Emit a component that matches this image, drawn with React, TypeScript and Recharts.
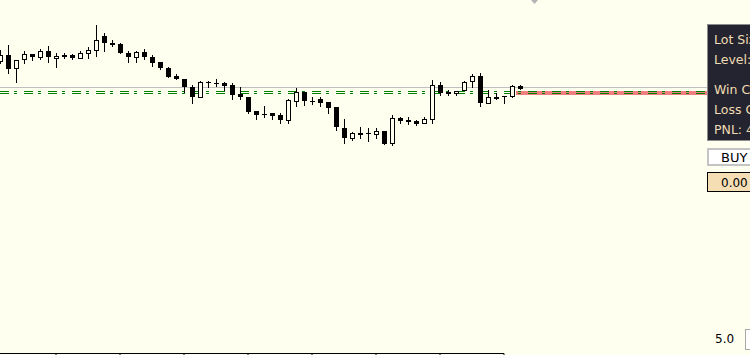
import { ComposedChart, Bar, XAxis, YAxis, ReferenceLine, ReferenceArea } from 'recharts';

// candle values, oldest first
const opens = [
  1.0839, 1.0845, 1.0832, 1.0841, 1.0846, 1.0843, 1.0849, 1.0842, 1.0845, 1.0845,
  1.0842, 1.0847, 1.0850, 1.0864, 1.0857, 1.0856, 1.0847, 1.0843, 1.0848, 1.0843,
  1.0838, 1.0832, 1.0824, 1.0821, 1.0813, 1.0803, 1.0818, 1.0817, 1.0817, 1.0815,
  1.0806, 1.0803, 1.0789, 1.0786, 1.0787, 1.0785, 1.0780, 1.0799, 1.0808, 1.0799,
  1.0801, 1.0798, 1.0793, 1.0772, 1.0762, 1.0767, 1.0767, 1.0766, 1.0769, 1.0757,
  1.0782, 1.0780, 1.0779, 1.0777, 1.0781, 1.0815, 1.0808, 1.0807, 1.0810, 1.0819,
  1.0824, 1.0797, 1.0803, 1.0804, 1.0804, 1.0814,
];
const highs = [
  1.0850, 1.0855, 1.0840, 1.0849, 1.0846, 1.0851, 1.0854, 1.0847, 1.0847, 1.0846,
  1.0849, 1.0853, 1.0875, 1.0867, 1.0860, 1.0857, 1.0849, 1.0849, 1.0851, 1.0845,
  1.0838, 1.0833, 1.0826, 1.0821, 1.0815, 1.0819, 1.0819, 1.0821, 1.0818, 1.0817,
  1.0813, 1.0803, 1.0789, 1.0794, 1.0787, 1.0787, 1.0801, 1.0812, 1.0808, 1.0803,
  1.0803, 1.0798, 1.0793, 1.0781, 1.0768, 1.0773, 1.0772, 1.0772, 1.0769, 1.0785,
  1.0783, 1.0783, 1.0780, 1.0783, 1.0820, 1.0818, 1.0810, 1.0809, 1.0819, 1.0826,
  1.0827, 1.0810, 1.0807, 1.0804, 1.0815, 1.0815,
];
const lows = [
  1.0837, 1.0827, 1.0818, 1.0837, 1.0840, 1.0841, 1.0838, 1.0833, 1.0842, 1.0841,
  1.0842, 1.0842, 1.0844, 1.0849, 1.0854, 1.0847, 1.0838, 1.0838, 1.0841, 1.0834,
  1.0831, 1.0823, 1.0821, 1.0808, 1.0797, 1.0803, 1.0813, 1.0814, 1.0810, 1.0801,
  1.0801, 1.0787, 1.0781, 1.0783, 1.0781, 1.0777, 1.0777, 1.0794, 1.0795, 1.0796,
  1.0794, 1.0787, 1.0770, 1.0757, 1.0760, 1.0762, 1.0759, 1.0762, 1.0756, 1.0755,
  1.0777, 1.0776, 1.0775, 1.0777, 1.0777, 1.0805, 1.0805, 1.0805, 1.0810, 1.0813,
  1.0794, 1.0797, 1.0801, 1.0797, 1.0803, 1.0811,
];
const closes = [
  1.0845, 1.0831, 1.0840, 1.0846, 1.0843, 1.0849, 1.0843, 1.0844, 1.0843, 1.0842,
  1.0847, 1.0850, 1.0860, 1.0857, 1.0855, 1.0847, 1.0843, 1.0848, 1.0843, 1.0837,
  1.0832, 1.0823, 1.0821, 1.0813, 1.0803, 1.0818, 1.0817, 1.0817, 1.0814, 1.0805,
  1.0803, 1.0788, 1.0785, 1.0786, 1.0784, 1.0780, 1.0800, 1.0808, 1.0799, 1.0799,
  1.0797, 1.0792, 1.0773, 1.0762, 1.0767, 1.0765, 1.0767, 1.0769, 1.0756, 1.0782,
  1.0779, 1.0778, 1.0776, 1.0781, 1.0815, 1.0807, 1.0806, 1.0809, 1.0818, 1.0824,
  1.0797, 1.0803, 1.0801, 1.0803, 1.0814, 1.0811,
];

// empty slots to the right of the last bar (chart shift area)
const emptySlots = 28;
const timeTicks = [7, 15, 23, 31, 39, 47, 55, 63];

const priceLevel = 1.08125; // grey line
const stopLevels = [1.08085, 1.08065]; // green dash-dot lines
const lossZone = [1.0805, 1.0809];
const axisPrice = 1.05465;
const tickBottom = 1.0545;

const panelLines = [
  { text: 'Lot Size: 0.01', y: 44 },
  { text: 'Level: 1', y: 64 },
  { text: 'Win Count: 0', y: 94 },
  { text: 'Loss Count: 0', y: 114 },
  { text: 'PNL: 4', y: 134 },
];

const BG = '#fffff0';

const rows = Array.from({ length: opens.length + emptySlots }, (_, i) =>
  i < opens.length
    ? { i, o: opens[i], h: highs[i], l: lows[i], c: closes[i], range: [lows[i], highs[i]] }
    : { i }
);

function Candle(props: any) {
  const { x, y, width, height, payload } = props;
  if (payload == null || payload.o == null) return null;
  const { o, h, l, c } = payload;
  const ppu = height / (h - l);
  const cx = Math.floor(x + width / 2);
  const top = Math.round(y + (h - Math.max(o, c)) * ppu);
  const bot = Math.round(y + (h - Math.min(o, c)) * ppu);
  const wickTop = Math.round(y);
  const wickBot = Math.round(y + height);
  const up = c > o;
  return (
    <g>
      <line x1={cx + 0.5} x2={cx + 0.5} y1={wickTop} y2={wickBot + 1} stroke="#000" strokeWidth={1} />
      {up ? (
        <rect x={cx - 1.5} y={top + 0.5} width={4} height={Math.max(bot - top, 1)} fill={BG} stroke="#000" strokeWidth={1} />
      ) : (
        <rect x={cx - 2} y={top} width={5} height={Math.max(bot - top, 1)} fill="#000" />
      )}
    </g>
  );
}

export default function App() {
  return (
    <div style={{ position: 'fixed', left: 0, top: 0, width: 750, height: 355, background: BG, overflow: 'hidden' }}>
      <ComposedChart
        width={750}
        height={355}
        data={rows}
        margin={{ top: 0, right: 2, bottom: 0, left: -4 }}
        barCategoryGap={0}
      >
        <XAxis dataKey="i" hide />
        <YAxis hide type="number" domain={[1.0545, 1.09]} />
        <ReferenceArea x1={opens.length - 1} y1={lossZone[0]} y2={lossZone[1]} fill="#f08080" fillOpacity={1} stroke="none" zIndex={0} />
        <ReferenceLine y={priceLevel} stroke="#c0c0c0" strokeWidth={1} zIndex={0} />
        {stopLevels.map((lv) => (
          <ReferenceLine key={lv} y={lv} stroke="#008000" strokeWidth={1} strokeDasharray="9 5 3 7" strokeDashoffset={-4} zIndex={0} />
        ))}
        <ReferenceLine segment={[{ x: 0, y: axisPrice }, { x: timeTicks[timeTicks.length - 1], y: axisPrice }]} stroke="#000" zIndex={0} />
        {timeTicks.map((t) => (
          <ReferenceLine key={t} segment={[{ x: t, y: axisPrice }, { x: t, y: tickBottom }]} stroke="#000" zIndex={0} />
        ))}
        <Bar dataKey="range" barSize={5} shape={Candle} isAnimationActive={false} />
      </ComposedChart>

      <svg width={750} height={355} style={{ position: 'absolute', left: 0, top: 0, pointerEvents: 'none' }}>
        <polygon points="531,0 538,0 534.5,4" fill="#b4b4b4" />
        <rect x={707.5} y={24.5} width={60} height={116} fill="#23242f" stroke="#8c8c8c" />
        {panelLines.map((ln) => (
          <text key={ln.text} x={714} y={ln.y} fontFamily="DejaVu Sans" fontSize={12.5} fill="#f0dcb4">
            {ln.text}
          </text>
        ))}
        <rect x={708} y={149} width={60} height={16} fill="#fff" stroke="#c4c4c4" strokeWidth={2} />
        <text x={721} y={162} fontFamily="DejaVu Sans" fontSize={13} fill="#000">BUY</text>
        <rect x={707.5} y={172.5} width={60} height={19} fill="#f5deb3" stroke="#000" />
        <text x={721} y={187} fontFamily="DejaVu Sans" fontSize={12} fill="#000">0.00</text>
        <text x={715} y={343} fontFamily="DejaVu Sans" fontSize={12} fill="#000">5.0</text>
        <rect x={745.5} y={329.5} width={20} height={20} fill="#fff" stroke="#a8a8a8" />
      </svg>
    </div>
  );
}
